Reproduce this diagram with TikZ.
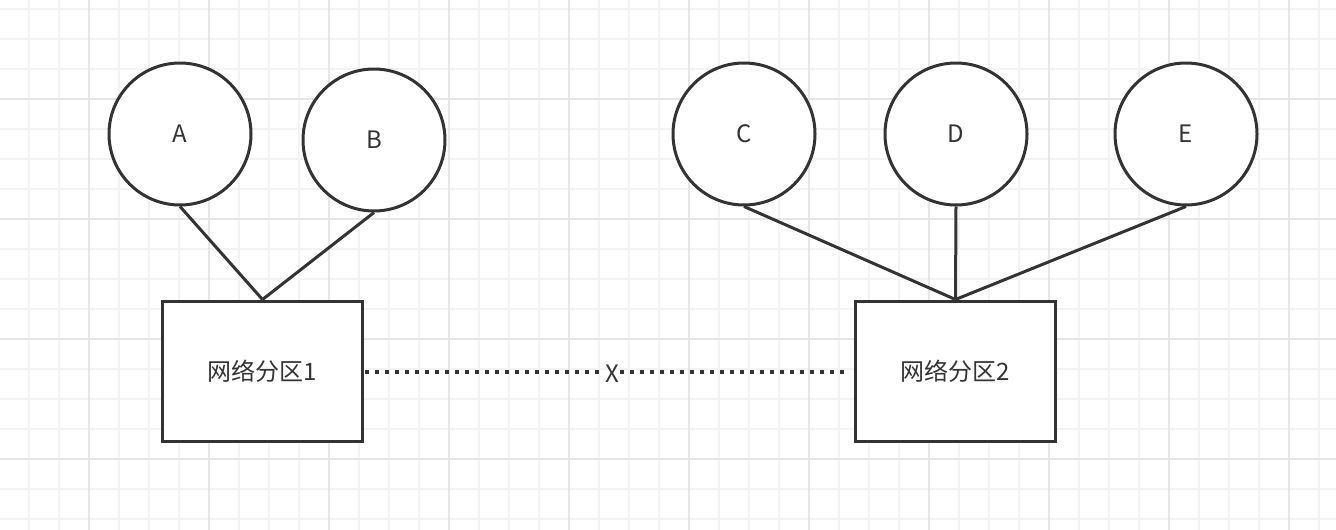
\documentclass[tikz,border=0pt]{standalone}
\usepackage{fontspec}
\setmainfont{Noto Sans CJK SC}
\definecolor{ink}{HTML}{333333}
\definecolor{gridminor}{HTML}{F3F3F3}
\definecolor{gridmajor}{HTML}{E6E6E6}
\begin{document}
\begin{tikzpicture}[x=1pt,y=-1pt,
  nodecircle/.style={circle,draw=ink,line width=3pt,fill=white,minimum size=142pt,inner sep=0pt,text=ink,font=\fontsize{24}{28}\selectfont},
  partbox/.style={rectangle,draw=ink,line width=3pt,fill=white,minimum width=200pt,minimum height=140pt,inner sep=0pt,text=ink,font=\fontsize{24}{28}\selectfont},
  link/.style={draw=ink,line width=3pt},
  dotlink/.style={draw=ink,line width=3.5pt,dash pattern=on 3.5pt off 6.5pt},
  label/.style={text=ink,inner sep=1pt,font=\fontsize{24}{28}\selectfont}]
\useasboundingbox (0,0) rectangle (1336,530);
\fill[white] (0,0) rectangle (1336,530);
% grid
\foreach \x in {29,59,...,1336} \draw[gridminor,line width=2pt] (\x,0) -- (\x,530);
\foreach \y in {9,39,...,530} \draw[gridminor,line width=2pt] (0,\y) -- (1336,\y);
\foreach \x in {89,209,...,1336} \draw[gridmajor,line width=2pt] (\x,0) -- (\x,530);
\foreach \y in {99,219,...,530} \draw[gridmajor,line width=2pt] (0,\y) -- (1336,\y);
% nodes
\node[nodecircle] (A) at (180,134) {A};
\node[nodecircle] (B) at (374,140) {B};
\node[nodecircle] (C) at (744,134) {C};
\node[nodecircle] (D) at (956,134) {D};
\node[nodecircle] (E) at (1186,134) {E};
\node[partbox] (P1) at (262.5,371) {网络分区1};
\node[partbox] (P2) at (955.5,371) {网络分区2};
\node[label] (X) at (612,374) {X};
% connectors
\draw[link] (A.south) -- (P1.north);
\draw[link] (B.south) -- (P1.north);
\draw[link] (C.south) -- (P2.north);
\draw[link] (D.south) -- (P2.north);
\draw[link] (E.south) -- (P2.north);
\draw[dotlink,shorten <=1pt] (P1.east |- 0,372) -- (X.west |- 0,372);
\draw[dotlink,shorten >=5pt] (X.east |- 0,372) -- (P2.west |- 0,372);
\end{tikzpicture}
\end{document}
